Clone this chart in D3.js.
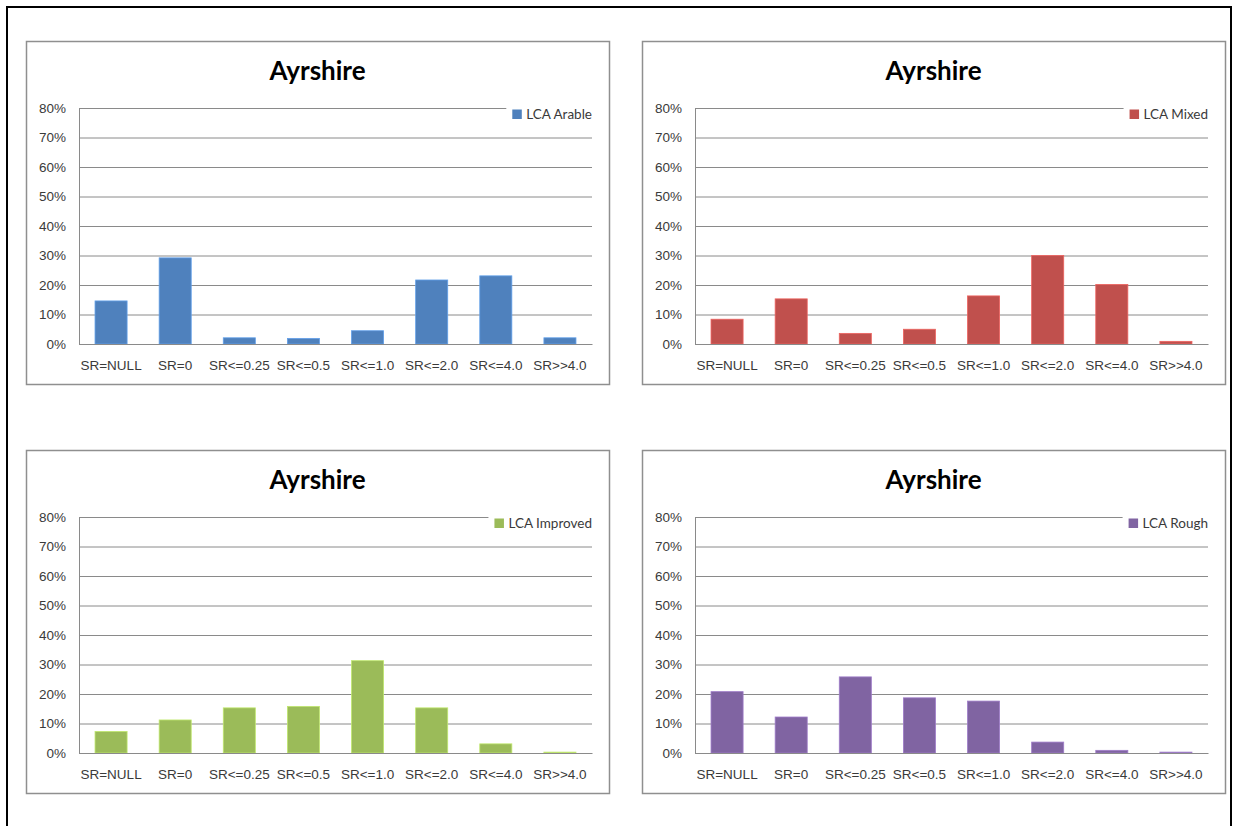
<!DOCTYPE html>
<html lang="en">
<head>
<meta charset="UTF-8">
<title>Ayrshire LCA charts</title>
<script src="https://d3js.org/d3.v7.min.js"></script>
<style>
    body { margin: 0; background: #fff; }
    svg { display: block; font-family: Lato, "Liberation Sans", sans-serif; }
    .tick text { fill: #3a3a3a; font-size: 13.5px; }
    .grid line { stroke: #8a8a8a; }
    .domain { stroke: #8a8a8a; }
    .title { font-size: 26px; font-weight: bold; fill: #000; }
    .legend text { font-size: 13.5px; fill: #3a3a3a; }
</style>
</head>
<body>
<svg id="chart" width="1240" height="826"></svg>
<script>
    // categories and values (fractions)
    const categories = ["SR=NULL", "SR=0", "SR<=0.25", "SR<=0.5", "SR<=1.0", "SR<=2.0", "SR<=4.0", "SR>>4.0"];
    const arable   = [0.146, 0.292, 0.021, 0.019, 0.045, 0.217, 0.231, 0.021];
    const mixed    = [0.084, 0.153, 0.036, 0.050, 0.163, 0.300, 0.202, 0.009];
    const improved = [0.073, 0.112, 0.153, 0.158, 0.313, 0.153, 0.031, 0.003];
    const rough    = [0.208, 0.122, 0.258, 0.187, 0.176, 0.037, 0.009, 0.003];
    const yTicks = [0, 0.1, 0.2, 0.3, 0.4, 0.5, 0.6, 0.7, 0.8];
    const chartTitle = "Ayrshire";

    const panels = [
        { name: "LCA Arable",   values: arable,   color: "#4F81BD", x: 26,  y: 41 },
        { name: "LCA Mixed",    values: mixed,    color: "#C0504D", x: 642, y: 41 },
        { name: "LCA Improved", values: improved, color: "#9BBB59", x: 26,  y: 450 },
        { name: "LCA Rough",    values: rough,    color: "#8064A2", x: 642, y: 450 }
    ];

    const panelW = 583, panelH = 343;
    const margin = { top: 67, right: 17, bottom: 40, left: 53 };
    const plotW = panelW - margin.left - margin.right;
    const plotH = panelH - margin.top - margin.bottom;

    const svg = d3.select("#chart");

    // outer frame
    svg.append("rect")
        .attr("x", 7).attr("y", 7)
        .attr("width", 1224).attr("height", 840)
        .attr("fill", "none")
        .attr("stroke", "#000")
        .attr("stroke-width", 2);

    const x = d3.scaleBand().domain(categories).range([0, plotW]).paddingInner(0.5).paddingOuter(0.25);
    const y = d3.scaleLinear().domain([0, 0.8]).range([plotH, 0]);

    panels.forEach(p => {
        const g = svg.append("g").attr("transform", `translate(${p.x},${p.y})`);

        g.append("rect")
            .attr("x", 0.5).attr("y", 0.5)
            .attr("width", panelW).attr("height", panelH)
            .attr("fill", "#fff")
            .attr("stroke", "#8f8f8f")
            .attr("stroke-width", 1.5);

        g.append("text")
            .attr("class", "title")
            .attr("x", panelW / 2)
            .attr("y", 39)
            .attr("text-anchor", "middle")
            .text(chartTitle);

        const plot = g.append("g").attr("transform", `translate(${margin.left},${margin.top})`);

        // gridlines + y labels
        plot.append("g")
            .attr("class", "grid")
            .call(d3.axisLeft(y).tickValues(yTicks).tickFormat(d3.format(".0%"))
                .tickSizeInner(-plotW).tickSizeOuter(0).tickPadding(13))
            .call(a => a.select(".domain").remove());

        // vertical axis line
        plot.append("line")
            .attr("x1", 0.5).attr("x2", 0.5)
            .attr("y1", 0).attr("y2", plotH)
            .attr("stroke", "#8a8a8a");

        plot.selectAll("rect.bar")
            .data(p.values)
            .enter().append("rect")
            .attr("class", "bar")
            .attr("x", (d, i) => x(categories[i]))
            .attr("y", d => y(d))
            .attr("width", x.bandwidth())
            .attr("height", d => plotH - y(d))
            .attr("fill", p.color)
            .attr("stroke", d3.color(p.color).brighter(0.6))
            .attr("stroke-width", 0.8);

        plot.append("g")
            .attr("transform", `translate(0,${plotH})`)
            .call(d3.axisBottom(x).tickSize(0).tickPadding(16))
            .call(a => a.select(".domain").attr("stroke", "#8a8a8a"));

        // legend, right aligned to the plot
        const leg = plot.append("g").attr("class", "legend");
        const bg = leg.append("rect").attr("fill", "#fff");
        const txt = leg.append("text")
            .attr("x", plotW)
            .attr("y", 6)
            .attr("dy", "0.35em")
            .attr("text-anchor", "end")
            .text(p.name);
        const tw = txt.node().getComputedTextLength();
        leg.append("rect")
            .attr("x", plotW - tw - 14)
            .attr("y", 1.5)
            .attr("width", 9.5).attr("height", 9.5)
            .attr("fill", p.color);
        bg.attr("x", plotW - tw - 20).attr("y", -4)
            .attr("width", tw + 24).attr("height", 20);
    });
</script>
</body>
</html>
